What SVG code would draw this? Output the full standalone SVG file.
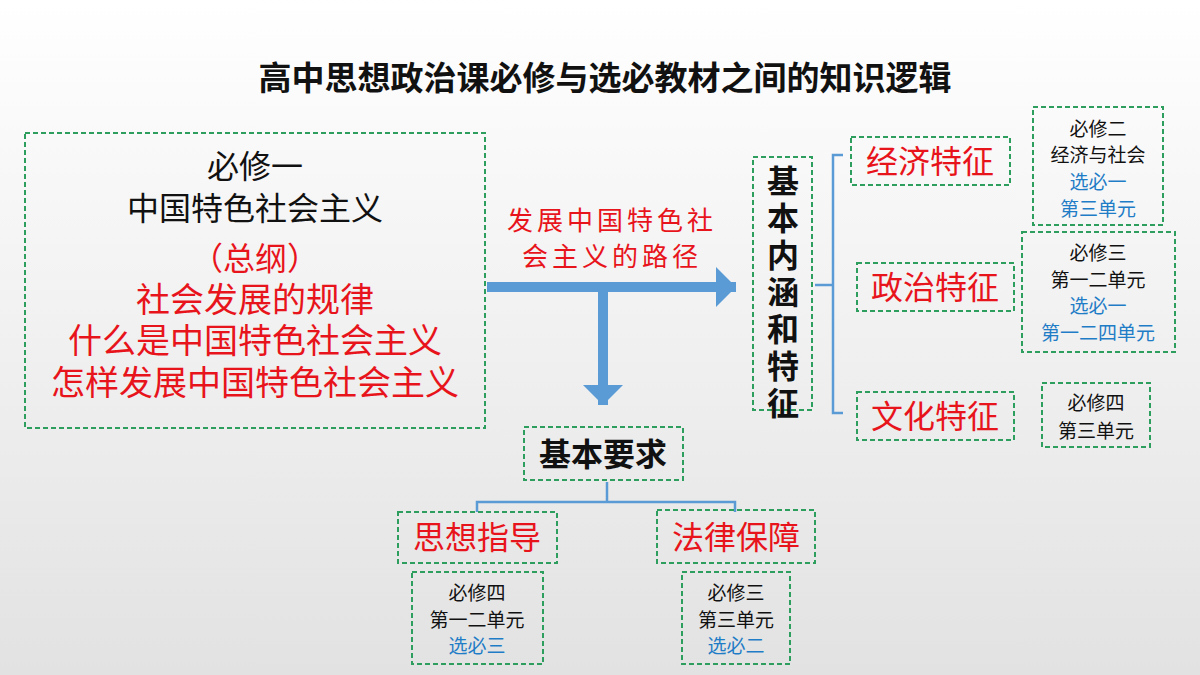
<svg xmlns="http://www.w3.org/2000/svg" width="1200" height="675" viewBox="0 0 1200 675">
<defs>
<linearGradient id="bg" x1="0" y1="0" x2="0" y2="1"><stop offset="0" stop-color="#ffffff"/><stop offset="1" stop-color="#e2e2e2"/></linearGradient>
<marker id="ah" markerWidth="4" markerHeight="4" refX="2" refY="2" orient="auto" markerUnits="strokeWidth"><path d="M0,0 L2,2 L0,4 Z" fill="#5b9bd5"/></marker>
</defs>
<style>
.b{fill:none;stroke:#2e9e5e;stroke-width:2;stroke-dasharray:5,3}
text{font-family:"Noto Sans CJK SC","Noto Sans",sans-serif;text-anchor:middle}
.k{fill:#111}.r{fill:#e8141c}.u{fill:#1f7cc6}
.s{font-size:19px}.m{font-size:32px}.v{font-size:32px;font-weight:bold;fill:#111}
.bd{font-weight:bold}
.ln{fill:none;stroke:#5b9bd5;stroke-width:2.5}
</style>
<rect width="1200" height="675" fill="url(#bg)"/>
<text x="605" y="90" class="k bd" style="font-size:33px">高中思想政治课必修与选必教材之间的知识逻辑</text>
<g id="connectors">
<line x1="487" y1="287" x2="736" y2="287" stroke="#5b9bd5" stroke-width="10" marker-end="url(#ah)"/>
<line x1="603" y1="292" x2="603" y2="405" stroke="#5b9bd5" stroke-width="10" marker-end="url(#ah)"/>
<path class="ln" d="M843,155 H833 V413 H843 M815,285 H833"/>
<path class="ln" d="M607,482 V502 M477,512 V502 H735 V512"/>
</g>
<g id="path-label"><text x="612" y="230" class="r" style="font-size:26px;letter-spacing:4px">发展中国特色社</text><text x="612" y="266" class="r" style="font-size:26px;letter-spacing:4px">会主义的路径</text></g>
<g id="main"><rect class="b" x="25" y="133" width="460" height="295"/>
<text x="255" y="178" class="k m">必修一</text><text x="255" y="220" class="k m">中国特色社会主义</text>
<text x="255" y="270" class="r m">（总纲）</text><text x="255" y="312" class="r" style="font-size:34px">社会发展的规律</text><text x="255" y="353" class="r" style="font-size:34px">什么是中国特色社会主义</text><text x="255" y="395" class="r" style="font-size:34px">怎样发展中国特色社会主义</text></g>
<g id="core"><rect class="b" x="753" y="157" width="59" height="253"/>
<text x="783" y="193" class="v">基</text><text x="783" y="230" class="v">本</text><text x="783" y="267" class="v">内</text><text x="783" y="304" class="v">涵</text><text x="783" y="341" class="v">和</text><text x="783" y="378" class="v">特</text><text x="783" y="415" class="v">征</text></g>
<g id="econ"><rect class="b" x="851" y="137" width="159" height="48"/><text x="930" y="173" class="r m">经济特征</text></g>
<g id="pol"><rect class="b" x="857" y="263" width="157" height="48"/><text x="935" y="299" class="r m">政治特征</text></g>
<g id="cul"><rect class="b" x="857" y="392" width="157" height="48"/><text x="935" y="428" class="r m">文化特征</text></g>
<g id="s1"><rect class="b" x="1033" y="107" width="130" height="118"/><text x="1098" y="136" class="k s">必修二</text><text x="1098" y="162" class="k s">经济与社会</text><text x="1098" y="189" class="u s">选必一</text><text x="1098" y="216" class="u s">第三单元</text></g>
<g id="s2"><rect class="b" x="1022" y="232" width="153" height="120"/><text x="1098" y="260" class="k s">必修三</text><text x="1098" y="287" class="k s">第一二单元</text><text x="1098" y="313" class="u s">选必一</text><text x="1098" y="340" class="u s">第一二四单元</text></g>
<g id="s3"><rect class="b" x="1042" y="383" width="108" height="64"/><text x="1096" y="410" class="k s">必修四</text><text x="1096" y="438" class="k s">第三单元</text></g>
<g id="req"><rect class="b" x="524" y="427" width="159" height="53"/><text x="603" y="466" class="k bd m">基本要求</text></g>
<g id="thought"><rect class="b" x="398" y="512" width="159" height="51"/><text x="477" y="549" class="r m">思想指导</text></g>
<g id="law"><rect class="b" x="657" y="510" width="158" height="53"/><text x="736" y="549" class="r m">法律保障</text></g>
<g id="t1"><rect class="b" x="412" y="572" width="131" height="92"/><text x="477" y="600" class="k s">必修四</text><text x="477" y="627" class="k s">第一二单元</text><text x="477" y="653" class="u s">选必三</text></g>
<g id="t2"><rect class="b" x="682" y="572" width="108" height="92"/><text x="736" y="600" class="k s">必修三</text><text x="736" y="627" class="k s">第三单元</text><text x="736" y="653" class="u s">选必二</text></g>
</svg>
